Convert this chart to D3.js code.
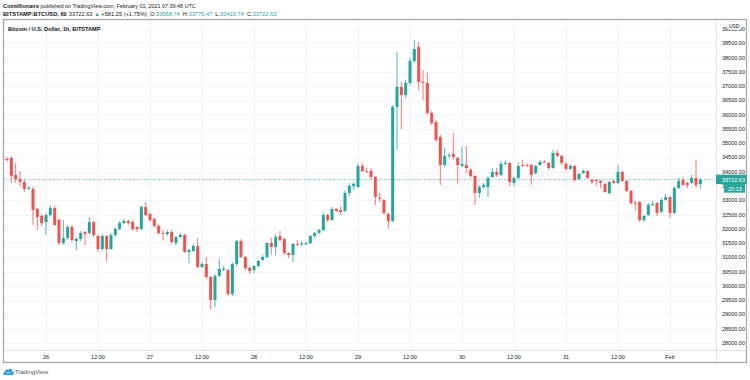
<!DOCTYPE html>
<html><head><meta charset="utf-8">
<script src="https://cdn.jsdelivr.net/npm/d3@7"></script>
<style>body{margin:0;background:#fff}svg{display:block}text{font-family:"Liberation Sans",Arial,sans-serif}</style>
</head><body><svg id="c" width="750" height="380"></svg>
<script>
// hourly candles, first one Jan 25 2021 14:00 UTC
const startTime = Date.UTC(2021, 0, 25, 14);
const opens = [
34553,34448,34483,33887,33747,33642,33396,33396,32696,32450,
32240,32485,32731,32310,31504,31680,32065,31574,31645,31890,31855,32240,31750,31294,31750,31294,31785,31995,32205,32275,32240,32065,31995,32766,
32521,32345,32100,31855,31820,31890,31504,31715,31785,31189,31224,31399,30663,30768,30313,29507,30348,30558,30558,29717,30768,31574,31014,30628,
30558,30698,30909,31014,31504,31364,31750,31645,31154,31084,31469,31469,31469,31504,31750,31855,31960,32485,32310,32696,32661,32626,33256,33502,
33467,34203,34027,34027,33817,33081,33011,32521,32275,36270,36971,36690,37111,37882,38372,37146,37111,36060,35744,35219,34238,34553,34623,34483,
34203,34238,34062,33852,33256,33467,33467,33817,33992,33887,34273,34308,33607,33782,34238,34238,34238,33957,34238,34343,34308,34132,34658,34553,
34273,34097,34203,33747,33957,34027,33712,33712,33677,33572,33256,33677,33607,33992,33677,33326,32906,32941,32310,32485,32836,32906,32591,33011,
33116,32556,33431,33712,33607,33607,33782,33568.74];
const highs = [
34868,34518,34518,34308,34027,33712,33502,33467,32731,32521,
32556,32836,32801,32380,32310,32135,32135,31715,31925,31925,32415,32275,31785,31820,31785,31855,32065,32275,32345,32310,32310,32100,32836,32941,
32556,32380,32170,31960,31960,31960,31750,31855,31820,31294,31469,31680,30839,31014,30348,30418,30944,30698,30593,30839,31609,31645,31049,30698,
30733,30909,31084,31539,31680,31820,31925,31680,31189,31504,31609,31574,31539,31785,31890,31995,32556,32521,32766,32731,32801,33361,33607,33642,
34308,34308,34132,34132,33852,33256,33046,32556,36340,38197,37146,37216,37987,38617,38547,37566,37461,36130,35814,35289,34833,34658,35359,34518,
34868,34903,34132,33887,33537,33607,33852,34132,34132,34378,34413,34343,33817,34308,34413,34308,34273,34238,34413,34413,34343,34763,34763,34588,
34343,34273,34238,33957,34097,34062,33747,33747,33712,33607,33677,33712,34238,34027,33712,33361,32976,32976,32485,32906,32976,32941,33081,33221,
33151,33467,33782,33817,33642,33887,34413,33775.47];
const lows = [
34378,34343,33607,33607,33502,33291,33361,32135,31960,32100,
31785,32415,32100,31434,31434,31609,31539,31259,31574,31434,31785,31715,31189,31224,30839,31259,31715,31960,32170,32135,31925,31890,31960,32450,
32240,32030,31785,31609,31750,31469,31434,31680,31154,30804,31189,30628,30628,30243,29157,29262,30313,30523,29647,29647,30698,30979,30558,30418,
30453,30663,30874,30979,31084,31084,31539,31084,30979,30839,31399,31399,31434,31469,31680,31820,31925,32240,32275,32591,32485,32591,33151,33361,
33431,33992,33957,33712,32836,32941,32485,31995,32240,34763,35499,36585,37041,37811,36865,36515,35989,35639,35043,33537,34168,34483,34413,33607,
34168,33957,33782,32836,33081,33396,33116,33782,33817,33852,34238,33502,33502,33747,34168,34168,33537,33887,34203,34308,34062,34097,34518,34238,
34027,34062,33642,33712,33922,33747,33572,33502,33431,33256,33186,33572,33572,33642,33291,32836,32661,32240,32240,32450,32801,32450,32556,32976,
32380,32521,33396,33502,33431,33572,33431,33410.74];
const closes = [
34413,34413,33852,33747,33642,33396,33431,32661,32415,32205,
32485,32731,32135,31504,31680,32065,31609,31645,31855,31820,32240,31785,31294,31750,31294,31785,31995,32205,32275,32205,31995,31995,32766,32485,
32310,32100,31855,31838,31890,31539,31715,31785,31189,31259,31399,30663,30768,30313,29507,30348,30593,30593,29717,30768,31574,31014,30628,30523,
30698,30874,31014,31504,31364,31715,31609,31154,31084,31469,31452,31487,31504,31750,31855,31960,32485,32310,32696,32626,32591,33256,33502,33572,
34203,34027,34010,33817,33116,33046,32556,32275,36270,36971,36690,37111,37882,38302,37146,37111,36060,35709,35113,34238,34553,34588,34518,34238,
34273,34132,33852,33256,33467,33537,33782,33992,33887,34273,34308,33642,33782,34203,34203,34220,33887,34203,34343,34330,34132,34658,34553,34308,
34097,34203,33712,33922,34027,33782,33642,33677,33607,33291,33642,33607,33992,33677,33326,32906,32888,32310,32450,32836,32871,32556,33011,33116,
32556,33431,33677,33537,33537,33782,33537,33722.63];
const priceTicks = d3.range(28000, 39001, 500);
const timeLabels = ["26","12:00","27","12:00","28","12:00","29","12:00","30","12:00","31","12:00","Feb"];
const lastPrice = 33722.63;

const UP = "#26a69a", DOWN = "#ef5350";
const svg = d3.select("#c");
const x = d3.scaleUtc().domain([new Date(Date.UTC(2021,0,26)), new Date(Date.UTC(2021,1,1))]).range([46, 670]);
const y = d3.scaleLinear().domain([28000, 38500]).range([343, 43.3]);

const data = opens.map((o, i) => ({t: new Date(startTime + i*3600e3), o, h: highs[i], l: lows[i], c: closes[i]}));
const timeTicks = timeLabels.map((l, i) => ({t: new Date(Date.UTC(2021,0,26) + i*12*3600e3), label: l}));

// header
const h1 = svg.append("text").attr("x", 3).attr("y", 7.5).attr("font-size", 5.4).attr("fill", "#131722");
h1.append("tspan").attr("font-weight", "bold").text("Cointillionaire");
h1.append("tspan").text(" published on TradingView.com, February 01, 2021 07:39:48 UTC");
const h2 = svg.append("text").attr("x", 3).attr("y", 15.5).attr("font-size", 5.7).attr("fill", "#131722");
h2.append("tspan").attr("font-weight", "bold").text("BITSTAMP:BTCUSD, 60");
h2.append("tspan").attr("dx", 0.5).text(" 33722.63 ");
h2.append("tspan").attr("fill", UP).text("▲");
h2.append("tspan").text(" +581.25 (+1.75%)");
h2.append("tspan").attr("dx", 1.5).text(" O:");
h2.append("tspan").attr("fill", UP).text("33568.74");
h2.append("tspan").attr("dx", 1.5).text(" H:");
h2.append("tspan").attr("fill", UP).text("33775.47");
h2.append("tspan").attr("dx", 1.5).text(" L:");
h2.append("tspan").attr("fill", UP).text("33410.74");
h2.append("tspan").attr("dx", 1.5).text(" C:");
h2.append("tspan").attr("fill", UP).text("33722.63");

// panel
svg.append("rect").attr("x", 3.5).attr("y", 19.5).attr("width", 743).attr("height", 343)
  .attr("fill", "#fff").attr("stroke", "#a8a8a8").attr("stroke-width", 1.3);

svg.append("clipPath").attr("id", "plot").append("rect").attr("x", 4.2).attr("y", 20).attr("width", 712).attr("height", 330);
const plot = svg.append("g").attr("clip-path", "url(#plot)");

// grid
plot.selectAll(".hg").data(priceTicks).join("line")
  .attr("x1", 4).attr("x2", 716).attr("y1", d => Math.round(y(d)) + 0.5).attr("y2", d => Math.round(y(d)) + 0.5)
  .attr("stroke", "#f0f3fa");
plot.selectAll(".vg").data(timeTicks).join("line")
  .attr("y1", 20).attr("y2", 350).attr("x1", d => Math.round(x(d.t)) + 0.5).attr("x2", d => Math.round(x(d.t)) + 0.5)
  .attr("stroke", "#f0f3fa");

// last price line
plot.append("line").attr("x1", 4).attr("x2", 716).attr("y1", y(lastPrice)).attr("y2", y(lastPrice))
  .attr("stroke", UP).attr("stroke-width", 0.8).attr("stroke-dasharray", "1,1.5");

// candles
const g = plot.selectAll(".cd").data(data).join("g");
g.append("line").attr("x1", d => x(d.t)).attr("x2", d => x(d.t))
  .attr("y1", d => y(d.h)).attr("y2", d => y(d.l))
  .attr("stroke", d => d.c >= d.o ? UP : DOWN).attr("stroke-width", 0.8);
g.append("rect").attr("x", d => x(d.t) - 1.5).attr("width", 3)
  .attr("y", d => y(Math.max(d.o, d.c)))
  .attr("height", d => Math.max(0.8, Math.abs(y(d.o) - y(d.c))))
  .attr("fill", d => d.c >= d.o ? UP : DOWN);

// legend inside
svg.append("text").attr("x", 8).attr("y", 30.5).attr("font-size", 5.6).attr("font-weight", "bold")
  .attr("fill", "#131722").text("Bitcoin / U.S. Dollar, 1h, BITSTAMP");

// axes separators
svg.append("line").attr("x1", 716.5).attr("x2", 716.5).attr("y1", 20).attr("y2", 362).attr("stroke", "#e0e3eb");
svg.append("line").attr("x1", 4).attr("x2", 746).attr("y1", 350.5).attr("y2", 350.5).attr("stroke", "#e0e3eb");

// price labels
svg.selectAll(".pl").data(priceTicks).join("text")
  .attr("x", 722).attr("y", d => y(d) + 2).attr("font-size", 5.5).attr("fill", "#131722")
  .text(d => d3.format(".2f")(d));

// USD badge
svg.append("rect").attr("x", 727).attr("y", 21.5).attr("width", 14).attr("height", 8).attr("rx", 3)
  .attr("fill", "#fff").attr("stroke", "#e0e3eb").attr("stroke-width", 0.6);
svg.append("text").attr("x", 734).attr("y", 27.5).attr("text-anchor", "middle").attr("font-size", 5)
  .attr("fill", "#131722").text("USD");

// last price badge
const yl = y(lastPrice);
svg.append("rect").attr("x", 716).attr("y", yl - 5).attr("width", 30.5).attr("height", 9.5).attr("fill", UP);
svg.append("text").attr("x", 722).attr("y", yl + 2).attr("font-size", 5.5).attr("fill", "#fff").text("33722.63");
svg.append("rect").attr("x", 724).attr("y", yl + 4.5).attr("width", 21).attr("height", 8.5).attr("fill", UP);
svg.append("text").attr("x", 728).attr("y", yl + 11).attr("font-size", 5.5).attr("fill", "#fff").text("20:13");

// time labels
svg.selectAll(".tl").data(timeTicks).join("text")
  .attr("x", d => x(d.t)).attr("y", 358.5).attr("text-anchor", "middle").attr("font-size", 5.5)
  .attr("fill", "#131722").text(d => d.label);

// TradingView logo
const logo = svg.append("g").attr("transform", "translate(3,367)");
logo.append("path").attr("d", "M1,8 C0,8 0,5 2,5 C2,3 4,2 5.5,3 C6.5,1 9.5,1.5 9.5,4 C11,4 11.5,8 9.5,8 Z").attr("fill", "#2196f3");
logo.append("path").attr("d", "M3,7 L5,5 L6.5,6.5 L8.5,4.5").attr("fill", "none").attr("stroke", "#fff").attr("stroke-width", 0.8);
svg.append("text").attr("x", 15).attr("y", 374).attr("font-size", 6).attr("fill", "#50535e").text("TradingView");
</script></body></html>
